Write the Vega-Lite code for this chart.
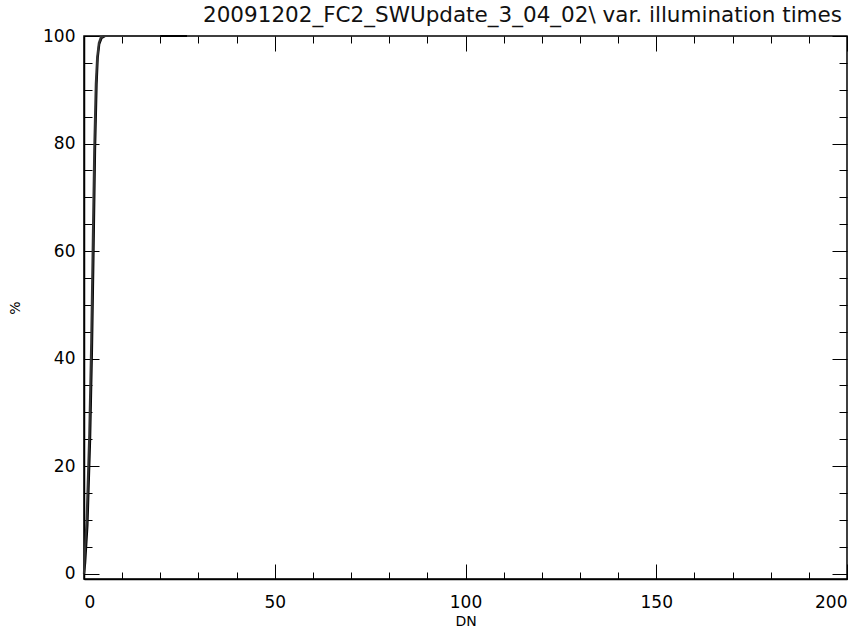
{
  "$schema": "https://vega.github.io/schema/vega-lite/v6.json",
  "autosize": {"type": "none"},
  "padding": {"left": 84, "top": 36, "right": 19, "bottom": 56},
  "width": 763,
  "height": 543,
  "background": "white",
  "config": {
    "view": {"stroke": "black", "strokeWidth": 1.5},
    "font": "DejaVu Sans",
    "axis": {"domainColor": "black", "tickColor": "black", "grid": false, "labelColor": "black", "titleColor": "black", "labelFont": "DejaVu Sans", "titleFont": "DejaVu Sans", "labelFontWeight": "normal", "titleFontWeight": "normal"}
  },
  "title": {"text": "20091202_FC2_SWUpdate_3_04_02\\ var. illumination times", "fontSize": 21.5, "font": "DejaVu Sans", "fontWeight": "normal", "color": "#111111", "anchor": "middle", "dx": 57, "offset": 1},
  "data": {"values": [
    {"s": "a", "dn": 0, "pct": 0},
    {"s": "a", "dn": 0.3, "pct": 2},
    {"s": "a", "dn": 0.9, "pct": 9},
    {"s": "a", "dn": 1.6, "pct": 25},
    {"s": "a", "dn": 2.1, "pct": 42},
    {"s": "a", "dn": 2.5, "pct": 60},
    {"s": "a", "dn": 2.9, "pct": 79},
    {"s": "a", "dn": 3.3, "pct": 91},
    {"s": "a", "dn": 3.6, "pct": 96},
    {"s": "a", "dn": 4.0, "pct": 98.5},
    {"s": "a", "dn": 4.6, "pct": 99.6},
    {"s": "a", "dn": 5.5, "pct": 100},
    {"s": "a", "dn": 27, "pct": 100},
    {"s": "b", "dn": 0, "pct": 0},
    {"s": "b", "dn": 0.15, "pct": 3},
    {"s": "b", "dn": 0.7, "pct": 10},
    {"s": "b", "dn": 1.4, "pct": 26},
    {"s": "b", "dn": 1.9, "pct": 43},
    {"s": "b", "dn": 2.3, "pct": 61},
    {"s": "b", "dn": 2.7, "pct": 79},
    {"s": "b", "dn": 3.1, "pct": 91},
    {"s": "b", "dn": 3.45, "pct": 96},
    {"s": "b", "dn": 3.9, "pct": 98.7},
    {"s": "b", "dn": 4.4, "pct": 99.7},
    {"s": "b", "dn": 5.2, "pct": 100},
    {"s": "b", "dn": 20, "pct": 100}
  ]},
  "resolve": {"axis": {"x": "independent", "y": "independent"}},
  "layer": [
    {
      "mark": {"type": "point", "opacity": 0},
      "encoding": {
        "x": {"field": "dn", "type": "quantitative", "scale": {"domain": [0, 200], "nice": false, "zero": false},
              "axis": {"orient": "bottom", "values": [0,10,20,30,40,60,70,80,90,110,120,130,140,160,170,180,190,200], "labels": false, "tickSize": -7, "domain": false, "title": null}},
        "y": {"field": "pct", "type": "quantitative", "scale": {"domain": [-1, 100], "nice": false, "zero": false},
              "axis": {"orient": "left", "values": [5,10,15,25,30,35,45,50,55,65,70,75,85,90,95], "labels": false, "tickSize": -8, "domain": false, "title": null}}
      }
    },
    {
      "mark": {"type": "point", "opacity": 0},
      "encoding": {
        "x": {"field": "dn", "type": "quantitative",
              "axis": {"orient": "top", "values": [0,10,20,30,40,60,70,80,90,110,120,130,140,160,170,180,190,200], "labels": false, "tickSize": -7, "domain": false, "title": null}},
        "y": {"field": "pct", "type": "quantitative",
              "axis": {"orient": "right", "values": [5,10,15,25,30,35,45,50,55,65,70,75,85,90,95], "labels": false, "tickSize": -8, "domain": false, "title": null}}
      }
    },
    {
      "mark": {"type": "point", "opacity": 0},
      "encoding": {
        "x": {"field": "dn", "type": "quantitative",
              "axis": {"orient": "top", "values": [0,50,100,150,200], "labels": false, "tickSize": -15, "domain": false, "title": null}},
        "y": {"field": "pct", "type": "quantitative",
              "axis": {"orient": "right", "values": [0,20,40,60,80,100], "labels": false, "tickSize": -15, "domain": false, "title": null}}
      }
    },
    {
      "mark": {"type": "line", "color": "black", "strokeWidth": 2.2},
      "encoding": {
        "detail": {"field": "s"},
        "strokeWidth": {"field": "s", "type": "nominal", "scale": {"domain": ["a", "b"], "range": [2.0, 1.2]}, "legend": null},
        "color": {"field": "s", "type": "nominal", "scale": {"domain": ["a", "b"], "range": ["#000000", "#333333"]}, "legend": null},
        "x": {"field": "dn", "type": "quantitative",
              "axis": {"orient": "bottom", "values": [0,50,100,150,200], "tickSize": -15, "labelPadding": 38, "labelFontSize": 17, "labelBaseline": "middle", "title": "DN", "titleFontSize": 14, "titlePadding": 4, "domainWidth": 1.5}},
        "y": {"field": "pct", "type": "quantitative",
              "axis": {"orient": "left", "values": [0,20,40,60,80,100], "tickSize": -15, "labelPadding": 24, "labelFontSize": 17, "title": "%", "titleFontSize": 14, "titlePadding": 20, "domainWidth": 1.5}},
        "order": {"field": "dn", "type": "quantitative"}
      }
    }
  ]
}
